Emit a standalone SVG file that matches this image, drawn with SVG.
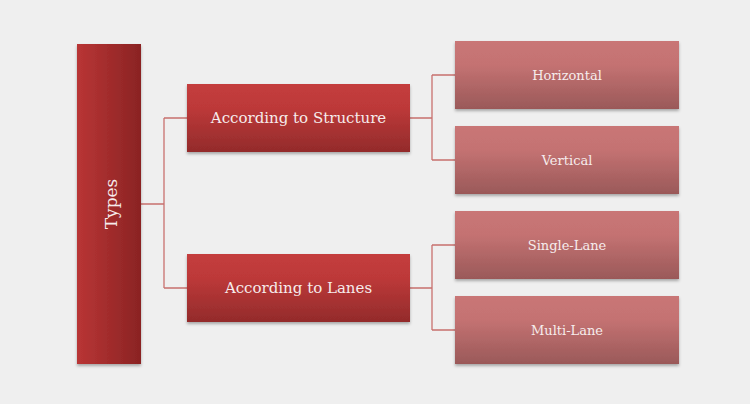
<svg xmlns="http://www.w3.org/2000/svg" width="750" height="404" viewBox="0 0 750 404">
<defs>
<linearGradient id="gType" x1="0" y1="0" x2="1" y2="0"><stop offset="0" stop-color="#b93535"/><stop offset="1" stop-color="#8a2323"/></linearGradient>
<linearGradient id="gMid" x1="0" y1="0" x2="0" y2="1"><stop offset="0" stop-color="#c43d3d"/><stop offset="0.35" stop-color="#bd3939"/><stop offset="1" stop-color="#932b2b"/></linearGradient>
<linearGradient id="gLeaf" x1="0" y1="0" x2="0" y2="1"><stop offset="0" stop-color="#c97676"/><stop offset="0.35" stop-color="#c47272"/><stop offset="1" stop-color="#9a5959"/></linearGradient>
<filter id="sh" x="-10%" y="-10%" width="120%" height="130%"><feDropShadow dx="0" dy="2" stdDeviation="1.5" flood-color="#000" flood-opacity="0.3"/></filter>
</defs>
<style>
.lbl{font-family:"DejaVu Serif","Liberation Serif",serif;fill:#f6ecec;text-anchor:middle;dominant-baseline:central}
.mid{font-size:15px}
.leaf{font-size:13px}
.conn{fill:none;stroke:#c8706e;stroke-width:1.3}
</style>
<rect width="750" height="404" fill="#efefef"/>
<g id="connectors">
<path class="conn" d="M141 204H164M164 118V288M164 118H187M164 288H187"/>
<path class="conn" d="M410 118H432M432 75V160M432 75H455M432 160H455"/>
<path class="conn" d="M410 288H432M432 245V330M432 245H455M432 330H455"/>
</g>
<g id="types"><rect x="77" y="44" width="64" height="320" fill="url(#gType)" filter="url(#sh)"/><text class="lbl" transform="translate(111 204) rotate(-90)" font-size="17">Types</text></g>
<g id="structure"><rect x="187" y="84" width="223" height="68" fill="url(#gMid)" filter="url(#sh)"/><text class="lbl mid" x="298.5" y="118">According to Structure</text></g>
<g id="lanes"><rect x="187" y="254" width="223" height="68" fill="url(#gMid)" filter="url(#sh)"/><text class="lbl mid" x="298.5" y="288">According to Lanes</text></g>
<g id="horizontal"><rect x="455" y="41" width="224" height="68" fill="url(#gLeaf)" filter="url(#sh)"/><text class="lbl leaf" x="567" y="75">Horizontal</text></g>
<g id="vertical"><rect x="455" y="126" width="224" height="68" fill="url(#gLeaf)" filter="url(#sh)"/><text class="lbl leaf" x="567" y="160">Vertical</text></g>
<g id="single"><rect x="455" y="211" width="224" height="68" fill="url(#gLeaf)" filter="url(#sh)"/><text class="lbl leaf" x="567" y="245">Single-Lane</text></g>
<g id="multi"><rect x="455" y="296" width="224" height="68" fill="url(#gLeaf)" filter="url(#sh)"/><text class="lbl leaf" x="567" y="330">Multi-Lane</text></g>
</svg>
